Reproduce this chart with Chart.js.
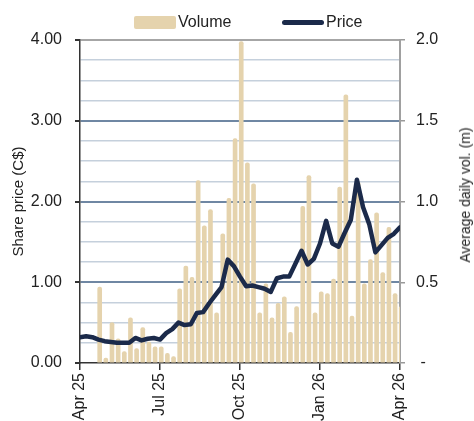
<!DOCTYPE html>
<html>
<head>
<meta charset="utf-8">
<script src="https://cdn.jsdelivr.net/npm/chart.js@4.4.1/dist/chart.umd.min.js"></script>
<style>
  body { margin: 0; background: #fff; }
  #wrap { position: relative; width: 474px; height: 421px; overflow: hidden; }
  #wrap, .txt { font-family: 'Liberation Sans', Arial, sans-serif; font-size: 16px; color: #222; }
  .sw { position: absolute; }
  .txt { position: absolute; white-space: nowrap; line-height: 1.15; }
  #volSw { left: 134px; top: 16px; width: 42px; height: 13px; border-radius: 2px; background: #e5d3ad; }
  #priceSw { left: 282px; top: 20px; width: 42px; height: 5px; border-radius: 3px; background: #1b2a4a; }
  #volTxt { left: 178px; top: 13px; }
  #priceTxt { left: 326px; top: 13px; }
  #y2Title { left: 465px; top: 195px; font-size: 14px; transform: translate(-50%, -50%) rotate(-90deg); }
</style>
</head>
<body>
<div id="wrap">
  <canvas id="chart" width="474" height="421"></canvas>
  <span class="sw" id="volSw"></span><span class="txt" id="volTxt">Volume</span>
  <span class="sw" id="priceSw"></span><span class="txt" id="priceTxt">Price</span>
  <span class="txt" id="y2Title">Average daily vol. (m)</span>
</div>
<script>
// x axis in weeks from Apr 25 (0) to Apr 26 (52)
const xTickLabels = ['Apr 25', 'Jul 25', 'Oct 25', 'Jan 26', 'Apr 26'];

// weekly share price (C$), week 0..52
const priceVals = [0.32, 0.33, 0.32, 0.29, 0.27, 0.26, 0.25, 0.25, 0.25, 0.31,
                   0.28, 0.30, 0.31, 0.29, 0.37, 0.42, 0.50, 0.47, 0.48, 0.62,
                   0.63, 0.74, 0.84, 0.94, 1.28, 1.20, 1.07, 0.95, 0.96, 0.94,
                   0.92, 0.88, 1.05, 1.07, 1.07, 1.23, 1.39, 1.22, 1.29, 1.48,
                   1.76, 1.48, 1.44, 1.61, 1.77, 2.27, 1.93, 1.72, 1.37, 1.46,
                   1.55, 1.60, 1.68];

// weekly average daily volume (m), first bar at week 3.2
const volStartWeek = 3.2;
const volVals = [0.47, 0.03, 0.25, 0.15, 0.07, 0.28, 0.09, 0.22, 0.13, 0.10,
                 0.10, 0.06, 0.04, 0.46, 0.60, 0.53, 1.13, 0.85, 0.95, 0.31,
                 0.80, 1.02, 1.39, 1.99, 1.24, 1.11, 0.31, 0.49, 0.28, 0.37,
                 0.41, 0.19, 0.35, 0.97, 1.16, 0.31, 0.44, 0.43, 0.52, 1.09,
                 1.66, 0.29, 1.12, 0.49, 0.64, 0.93, 0.56, 0.84, 0.43, 0.35];

Chart.defaults.font.family = "'Liberation Sans', Arial, sans-serif";
Chart.defaults.font.size = 16;
Chart.defaults.color = '#222';

let ctx = document.getElementById('chart').getContext('2d');
window.priceChart = new Chart(ctx, {
  type: 'bar',
  data: {
    datasets: [{
      type: 'line',
      label: 'Price',
      data: priceVals.map((v, i) => ({ x: i, y: v })),
      yAxisID: 'y',
      borderColor: '#1b2a4a',
      borderWidth: 4.5,
      borderJoinStyle: 'round',
      borderCapStyle: 'round',
      pointRadius: 0,
      tension: 0,
      order: 1
    }, {
      type: 'bar',
      label: 'Volume',
      data: volVals.map((v, i) => ({ x: volStartWeek + i, y: v })),
      yAxisID: 'y2',
      backgroundColor: '#e5d3ad',
      barThickness: 4,
      borderRadius: 2,
      borderSkipped: 'bottom',
      order: 2
    }]
  },
  options: {
    responsive: false,
    animation: false,
    devicePixelRatio: 1,
    layout: { padding: { top: 40, left: 0, right: 0, bottom: 0 } },
    plugins: {
      legend: { display: false },
      tooltip: { enabled: false }
    },
    scales: {
      x: {
        type: 'linear',
        min: 0,
        max: 52,
        offset: false,
        grid: { offset: false, drawOnChartArea: false, tickLength: 7, tickColor: '#333', lineWidth: 1.5 },
        border: { color: '#333', width: 1.5 },
        ticks: {
          stepSize: 13,
          autoSkip: false,
          minRotation: 90,
          maxRotation: 90,
          padding: 3,
          callback: v => xTickLabels[v / 13]
        },
        afterFit: s => { s.height = 58; }
      },
      y: {
        position: 'left',
        min: 0,
        max: 4,
        ticks: {
          stepSize: 0.25,
          maxTicksLimit: 20,
          autoSkip: false,
          padding: 13,
          callback: v => Number.isInteger(v) ? v.toFixed(2) : ''
        },
        grid: {
          tickLength: 5,
          color: c => {
            let v = c.tick.value;
            if (v === 0) return 'rgba(0,0,0,0)';
            if (v === 4) return '#a6a6a6';
            return Number.isInteger(v) ? '#6f87a3' : '#c5d0dc';
          },
          lineWidth: c => Number.isInteger(c.tick.value) ? 2 : 1.5,
          tickColor: c => Number.isInteger(c.tick.value) ? '#333' : 'rgba(0,0,0,0)'
        },
        border: { color: '#333', width: 1.5 },
        title: { display: true, text: 'Share price (C$)', font: { size: 15 }, padding: { top: 10, bottom: 0 } },
        afterFit: s => { s.width = 80; }
      },
      y2: {
        position: 'right',
        min: 0,
        max: 2,
        ticks: {
          stepSize: 0.5,
          padding: 11,
          callback: v => v === 0 ? ' -' : v.toFixed(1)
        },
        grid: { drawOnChartArea: false, tickLength: 5, tickColor: '#999', lineWidth: 1.5 },
        border: { color: '#a0a0a0', width: 2 },
        afterFit: s => { s.width = 74; }
      }
    }
  }
});
</script>
</body>
</html>
